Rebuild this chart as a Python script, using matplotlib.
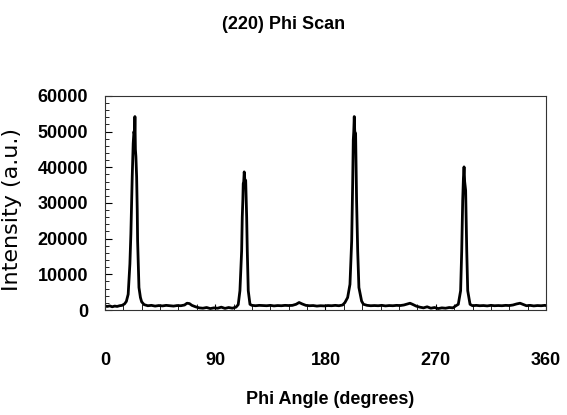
#phi scan plot of the (220) reflection

import matplotlib
matplotlib.use("Agg")
import matplotlib.pyplot as plt
from matplotlib.ticker import MultipleLocator

########################

#data (angle in degrees, intensity in a.u.)

phi = [0, 2, 4, 6, 8, 10, 12, 14, 16,
       17.5, 19.0, 20.4, 21.2, 21.8, 22.3, 23.1, 23.7, 24.2, 24.5, 24.9, 25.3, 25.9, 26.4, 26.7, 27.8, 29.0,
       30, 32, 35, 38, 41, 44, 47, 50, 53, 56, 59, 62, 65, 67, 69, 71, 74, 77, 80, 83, 86, 89, 92, 95, 98, 101, 104, 107, 108.8,
       110.2, 111.6, 112.1, 112.6, 112.9, 113.3, 113.7, 114.2, 114.9, 115.7, 116.2, 117.0, 118.4, 120,
       123, 126, 129, 132, 135, 138, 141, 144, 147, 150, 153, 156, 158.5, 161, 164, 167, 170, 173, 176, 179, 182, 185, 188, 191, 194,
       195.9, 198.1, 200.0, 201.4, 202.2, 202.7, 203.1, 203.5, 203.9, 204.6, 205.4, 206.3, 207.3, 209.5, 211,
       214, 217, 220, 223, 226, 229, 232, 235, 238, 241, 244, 247, 249, 251, 254, 257, 260, 263, 266, 269, 272, 275, 278, 281, 284, 286.5,
       288.4, 290.3, 291.2, 292.0, 292.6, 293.1, 293.6, 294.4, 295.3, 296.1, 298, 300,
       303, 306, 309, 312, 315, 318, 321, 324, 327, 330, 333, 336, 338.8, 341, 344, 347, 350, 353, 356, 359, 360]

intensity = [1100, 1000, 1150, 900, 1100, 1000, 1200, 1300, 1700,
             2400, 4400, 12900, 21300, 30700, 37300, 46700, 50000, 49000, 54200, 45000, 43000, 37300, 27900, 19400, 6300, 3500,
             2300, 1500, 1200, 1300, 1100, 1250, 1150, 1300, 1200, 1100, 1250, 1200, 1400, 1900, 1800, 1300, 900, 600, 500, 700, 400, 600, 500, 800, 450, 700, 500, 800, 1500,
             5400, 16600, 26000, 31000, 35400, 36000, 38700, 36500, 36300, 26000, 16600, 5400, 1600, 1300,
             1200, 1300, 1250, 1200, 1300, 1150, 1250, 1200, 1300, 1250, 1300, 1600, 2100, 1700, 1300, 1200, 1250, 1100, 1200, 1150, 1250, 1200, 1300, 1200, 1400,
             2100, 3500, 7200, 19400, 35400, 47600, 50000, 54200, 50000, 49500, 30700, 16600, 6300, 2500, 1600,
             1300, 1200, 1250, 1200, 1300, 1150, 1250, 1200, 1300, 1250, 1400, 1700, 1900, 1600, 1100, 800, 600, 900, 500, 700, 400, 600, 500, 700, 600, 1200,
             1600, 5400, 16600, 30700, 37000, 40100, 36000, 33500, 16600, 5400, 1600, 1200,
             1300, 1200, 1250, 1150, 1300, 1200, 1250, 1200, 1300, 1250, 1400, 1700, 1900, 1600, 1200, 1300, 1150, 1250, 1200, 1300, 1250]

x_ticks = [0, 90, 180, 270, 360]
y_ticks = [0, 10000, 20000, 30000, 40000, 50000, 60000]

title_text = "(220) Phi Scan"
x_label = "Phi Angle (degrees)"
y_label = "Intensity (a.u.)"

########################

#plot

bold_font = ["Liberation Sans", "DejaVu Sans"]

fig = plt.figure(figsize=(5.67, 4.15), dpi=100)
ax = fig.add_axes([0.185, 0.253, 0.778, 0.516])

ax.plot(phi, intensity, '-', color="black", linewidth=2.0)

ax.set_xlim(0, 360)
ax.set_ylim(0, 60000)
ax.set_xticks(x_ticks)
ax.set_yticks(y_ticks)
ax.xaxis.set_minor_locator(MultipleLocator(15))
ax.yaxis.set_minor_locator(MultipleLocator(2000))

ax.tick_params(axis='both', which='both', direction='in', top=False, right=False, color="black")
ax.tick_params(axis='y', which='major', length=5, width=0.8, pad=12)
ax.tick_params(axis='y', which='minor', length=3, width=0.6)
ax.tick_params(axis='x', which='major', length=4, width=0.8, pad=30)
ax.tick_params(axis='x', which='minor', length=4, width=0.6)

for lab in ax.get_xticklabels() + ax.get_yticklabels():
    lab.set_family(bold_font)
    lab.set_fontweight("bold")
    lab.set_fontsize(13)

for side in ax.spines.values():
    side.set_linewidth(0.8)
    side.set_color("#333333")

ax.set_xlabel(x_label, family=bold_font, fontweight="bold", fontsize=13, va="center")
ax.xaxis.set_label_coords(0.51, -0.42)
ax.set_ylabel(y_label, family="DejaVu Sans", fontsize=16)
ax.yaxis.set_label_coords(-0.188, 0.47)
fig.text(0.5, 0.942, title_text, ha="center", va="center", family=bold_font, fontweight="bold", fontsize=13)

fig.savefig("out.png", dpi=100)
